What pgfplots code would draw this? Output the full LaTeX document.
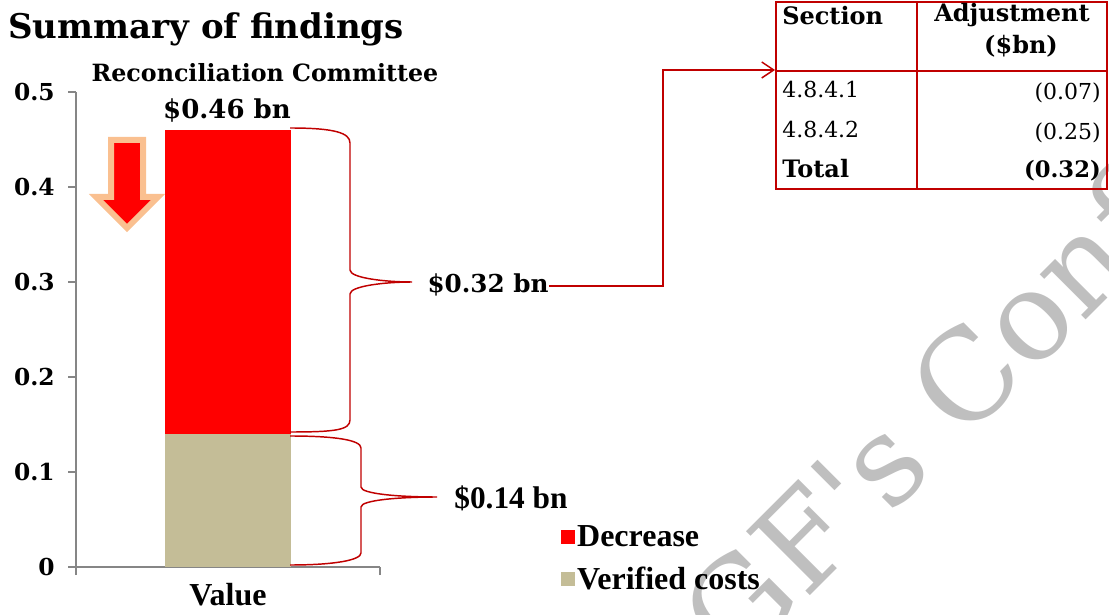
\documentclass[border=0pt]{standalone}
\usepackage{fontspec}
\setmainfont{DejaVu Serif}
\newfontfamily\lib{Liberation Serif}
\newfontfamily\wmfont[Ligatures=TeXOff]{DejaVu Serif}
\usepackage{pgfplots}
\pgfplotsset{compat=1.18}
\usetikzlibrary{arrows.meta}
\definecolor{tanc}{HTML}{C4BD97}
\definecolor{dred}{HTML}{C00000}
\definecolor{axgray}{HTML}{868686}
\definecolor{peach}{HTML}{FAC090}
\definecolor{wm}{HTML}{BFBFBF}
\begin{document}
\begin{tikzpicture}
\useasboundingbox (0,0) rectangle (831.75pt,460.5pt);
% watermark
\begin{scope}
\clip (0,0) rectangle (831.75pt,460.5pt);
\begin{scope}[x=0.75pt,y=-0.75pt,shift={(0pt,460.5pt)}]
\node[rotate=45, anchor=base west, text=wm, font=\wmfont\fontsize{93}{100}\selectfont, inner sep=0pt] at (668,738) {CGF's Confidential};
\end{scope}
\end{scope}

\begin{axis}[
  at={(57pt,35.25pt)}, anchor=south west,
  scale only axis, width=228pt, height=356.25pt,
  xmin=-0.5, xmax=0.5, ymin=0, ymax=0.5,
  axis x line*=bottom, axis y line*=left,
  axis line style={axgray, line width=1.2pt},
  ytick={0,0.1,0.2,0.3,0.4,0.5},
  yticklabels={0,0.1,0.2,0.3,0.4,0.5},
  xtick={-0.5,0.5}, xticklabels={},
  tick align=outside, major tick length=6pt,
  tick style={axgray, line width=1.2pt},
  yticklabel style={font=\bfseries\fontsize{17.5}{17.5}\selectfont, inner sep=0pt, xshift=-9.75pt},
  ybar stacked, bar width=93.75pt,
  xlabel={Value},
  xlabel style={at={(axis description cs:0.5,-0.082)}, anchor=base, font=\lib\bfseries\fontsize{24}{24}\selectfont},
  legend style={at={(1.595,0.092)}, anchor=north west, draw=none, fill=none,
     font=\lib\bfseries\fontsize{24}{24}\selectfont, row sep=10.5pt, inner sep=0pt,
     nodes={inner sep=1.5pt, xshift=2pt}},
  legend cell align=left, reverse legend,
  legend image code/.code={\fill[#1] (0pt,-5.25pt) rectangle (10.5pt,5.25pt);},
  clip=false,
]
\addplot[fill=tanc, draw=none] coordinates {(0,0.14)};
\addplot[fill=red, draw=none] coordinates {(0,0.32)};
\legend{Verified costs, Decrease}
\end{axis}

\begin{scope}[x=0.75pt,y=-0.75pt,shift={(0pt,460.5pt)}]
% titles
\node[anchor=base west, inner sep=0pt, font=\bfseries\fontsize{25.5}{25.5}\selectfont] at (8,39) {Summary of findings};
\node[anchor=base, inner sep=0pt, font=\bfseries\fontsize{17.8}{17.8}\selectfont] at (265,82) {Reconciliation Committee};
\node[anchor=base, inner sep=0pt, font=\bfseries\fontsize{19.5}{19.5}\selectfont] at (227,119) {\$0.46 bn};
% block arrow
\draw[peach, line width=4.5pt, fill=red, line join=miter] (111,140) -- (143,140) -- (143,197) -- (158,197) -- (127,228) -- (96,197) -- (111,197) -- cycle;
% braces
\draw[dred, line width=1.1pt] (290,128) .. controls (335,128) and (350,133) .. (350,143) -- (350,270) .. controls (350,278) and (385,282) .. (412,282) .. controls (385,282) and (350,286) .. (350,294) -- (350,420) .. controls (350,430) and (335,432) .. (290,432);
\draw[dred, line width=1.1pt] (290,436) .. controls (335,436) and (361,440) .. (361,448) -- (361,487) .. controls (361,494) and (400,497) .. (437,497) .. controls (400,497) and (361,500) .. (361,507) -- (361,553) .. controls (361,560) and (335,565) .. (290,565);
\node[anchor=base, inner sep=0pt, font=\bfseries\fontsize{18.5}{18.5}\selectfont] at (488,293) {\$0.32 bn};
\node[anchor=base, inner sep=0pt, font=\lib\bfseries\fontsize{23.5}{23.5}\selectfont] at (511,508) {\$0.14 bn};
\draw[dred, line width=1.1pt, -{Straight Barb[length=9pt,width=12pt]}] (549,286) -- (663,286) -- (663,70) -- (775,70);
% table
\draw[dred, line width=2.2pt] (776,2) rectangle (1107,189);
\draw[dred, line width=2.2pt] (917,2) -- (917,189);
\draw[dred, line width=2.2pt] (776,71) -- (1107,71);
\node[anchor=base west, inner sep=0pt, font=\bfseries\fontsize{18}{18}\selectfont] at (782,25) {Section};
\node[anchor=base, inner sep=0pt, font=\bfseries\fontsize{18}{18}\selectfont] at (1012,22) {Adjustment};
\node[anchor=base, inner sep=0pt, font=\bfseries\fontsize{18}{18}\selectfont] at (1021,54) {(\$bn)};
\node[anchor=base west, inner sep=0pt, font=\fontsize{16.5}{16.5}\selectfont] at (782,98) {4.8.4.1};
\node[anchor=base east, inner sep=0pt, font=\fontsize{16.5}{16.5}\selectfont] at (1101,100) {(0.07)};
\node[anchor=base west, inner sep=0pt, font=\fontsize{16.5}{16.5}\selectfont] at (782,138) {4.8.4.2};
\node[anchor=base east, inner sep=0pt, font=\fontsize{16.5}{16.5}\selectfont] at (1101,140) {(0.25)};
\node[anchor=base west, inner sep=0pt, font=\bfseries\fontsize{18}{18}\selectfont] at (782,178) {Total};
\node[anchor=base east, inner sep=0pt, font=\bfseries\fontsize{17}{17}\selectfont] at (1101,178) {(0.32)};
\end{scope}
\end{tikzpicture}
\end{document}
